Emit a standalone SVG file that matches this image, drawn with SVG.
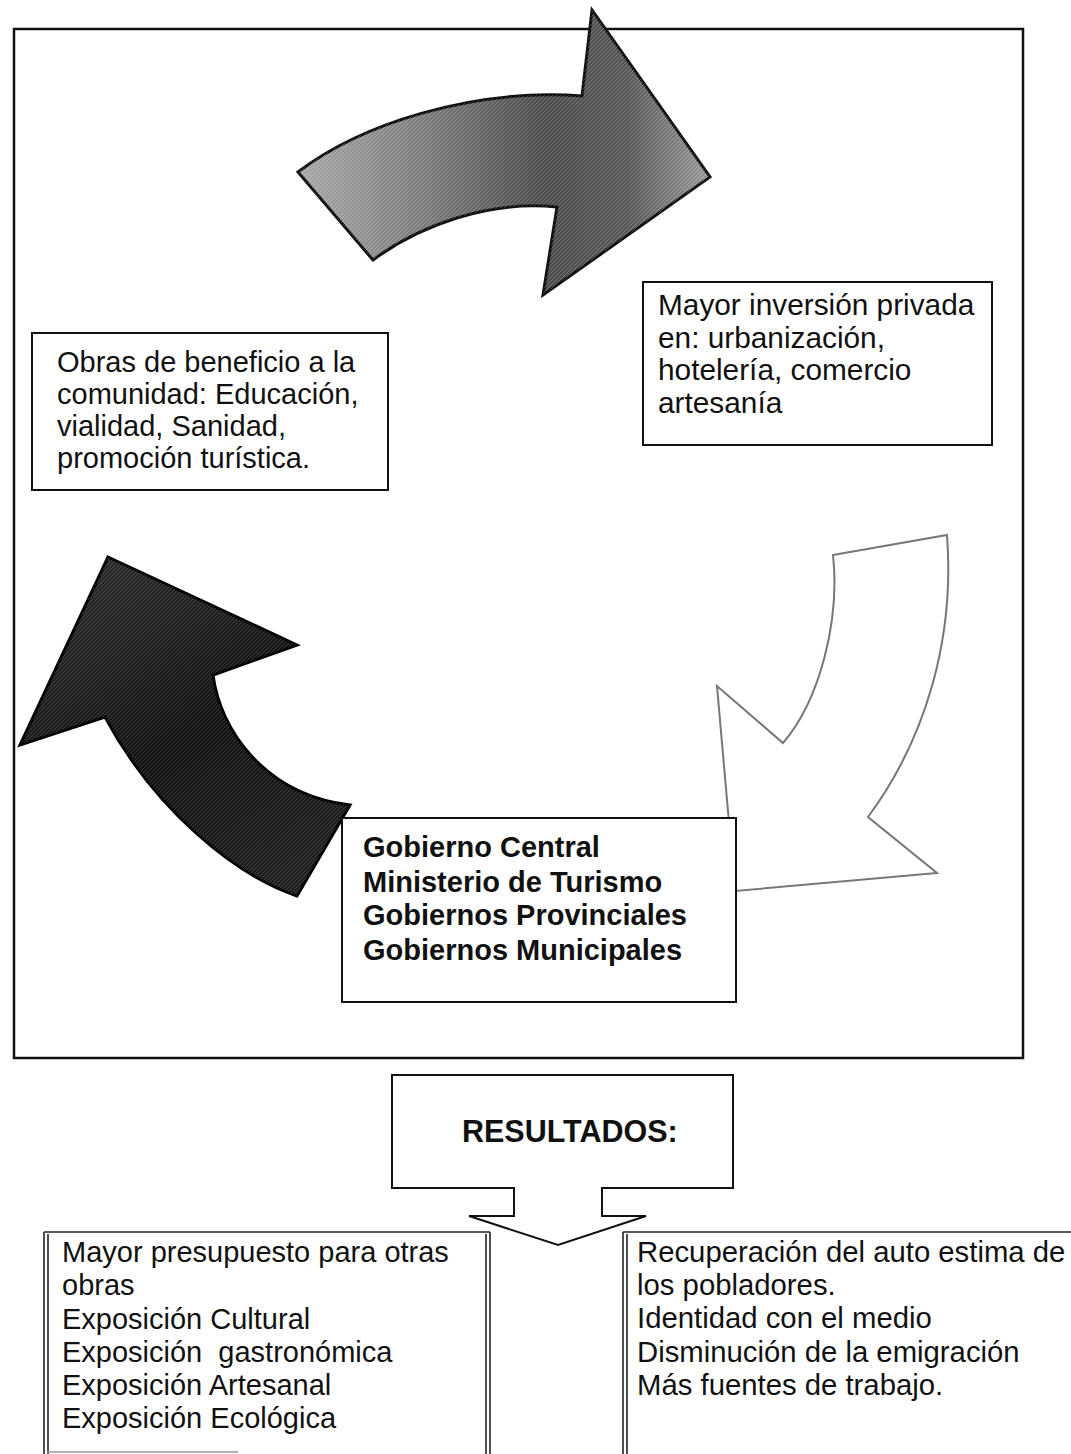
<svg xmlns="http://www.w3.org/2000/svg" width="1071" height="1454" viewBox="0 0 1071 1454">
<defs>
<style>
.t{font-family:"Liberation Sans",Arial,Helvetica,sans-serif;font-size:29px;fill:#111}
.b{font-weight:bold}
.box{fill:#fff;stroke:#111;stroke-width:2}
.frame{fill:none;stroke:#111;stroke-width:2.5}
.ln{stroke:#222;stroke-width:1.6;fill:none}
</style>
<linearGradient id="gTop" gradientUnits="userSpaceOnUse" x1="298" y1="150" x2="710" y2="150">
<stop offset="0" stop-color="#a8a8a8"/>
<stop offset="0.3" stop-color="#7c7c7c"/>
<stop offset="0.6" stop-color="#4c4c4c"/>
<stop offset="0.8" stop-color="#585858"/>
<stop offset="1" stop-color="#9a9a9a"/>
</linearGradient>
<linearGradient id="gLeft" gradientUnits="userSpaceOnUse" x1="100" y1="560" x2="300" y2="900">
<stop offset="0" stop-color="#2c2c2c"/>
<stop offset="0.5" stop-color="#141414"/>
<stop offset="1" stop-color="#222"/>
</linearGradient>
<pattern id="hatch" width="4" height="4" patternUnits="userSpaceOnUse">
<path d="M0,4 L4,0" stroke="#fff" stroke-opacity="0.22" stroke-width="1"/>
</pattern>
</defs>
<rect width="1071" height="1454" fill="#fff"/>
<rect id="frame" class="frame" x="14" y="29" width="1009" height="1029"/>

<g id="connectors">
<g id="arrow-top">
<path d="M298,172 C360,125 470,88 582,96 L592,10 L710,177 L543,295 L557,207 C490,200 420,225 373,260 Z" fill="url(#gTop)" stroke="#111" stroke-width="3" stroke-linejoin="miter"/>
<path d="M298,172 C360,125 470,88 582,96 L592,10 L710,177 L543,295 L557,207 C490,200 420,225 373,260 Z" fill="url(#hatch)"/>
</g>
<g id="arrow-right">
<path d="M833,555 L947,535 C955,640 925,740 868,817 L937,873 L735,891 L717,686 L783,743 C820,700 840,620 833,555 Z" fill="#fff" stroke="#777" stroke-width="2"/>
</g>
<g id="arrow-left">
<path d="M108,557 L297,645 L213,675 C220,730 265,795 350,805 L297,896 C235,875 155,810 105,717 L20,745 Z" fill="url(#gLeft)" stroke="#000" stroke-width="3"/>
<path d="M108,557 L297,645 L213,675 C220,730 265,795 350,805 L297,896 C235,875 155,810 105,717 L20,745 Z" fill="url(#hatch)" opacity="0.6"/>
</g>
</g>

<g id="node-obras">
<rect class="box" x="32" y="333" width="356" height="157"/>
<text class="t" x="57" y="372">Obras de beneficio a la</text>
<text class="t" x="57" y="404">comunidad: Educación,</text>
<text class="t" x="57" y="436">vialidad, Sanidad,</text>
<text class="t" x="57" y="468">promoción turística.</text>
</g>

<g id="node-inversion">
<rect class="box" x="643" y="282" width="349" height="163"/>
<text class="t" x="658" y="315" style="font-size:29.8px">Mayor inversión privada</text>
<text class="t" x="658" y="348" style="font-size:29.8px">en: urbanización,</text>
<text class="t" x="658" y="380" style="font-size:29.8px">hotelería, comercio</text>
<text class="t" x="658" y="413" style="font-size:29.8px">artesanía</text>
</g>

<g id="node-gobierno">
<rect class="box" x="342" y="818" width="394" height="184"/>
<text class="t b" x="363" y="857">Gobierno Central</text>
<text class="t b" x="363" y="892">Ministerio de Turismo</text>
<text class="t b" x="363" y="925">Gobiernos Provinciales</text>
<text class="t b" x="363" y="960">Gobiernos Municipales</text>
</g>

<g id="node-resultados">
<path class="box" d="M392,1075 H733 V1188 H602 V1216 H646 L558,1245 L469,1216 H514 V1188 H392 Z"/>
<text class="t b" x="462" y="1142" style="font-size:30.5px">RESULTADOS:</text>
</g>

<g id="node-res-left">
<line class="ln" x1="44" y1="1232" x2="490" y2="1232" stroke-width="2.5"/>
<line class="ln" x1="44" y1="1232" x2="44" y2="1454"/>
<line class="ln" x1="48" y1="1234" x2="48" y2="1454"/>
<line class="ln" x1="486" y1="1234" x2="486" y2="1454"/>
<line class="ln" x1="490" y1="1232" x2="490" y2="1454"/>
<line x1="47" y1="1452" x2="238" y2="1452" stroke="#999" stroke-width="1.5"/>
<text class="t" x="62" y="1262">Mayor presupuesto para otras</text>
<text class="t" x="62" y="1295">obras</text>
<text class="t" x="62" y="1329">Exposición Cultural</text>
<text class="t" x="62" y="1362" xml:space="preserve">Exposición  gastronómica</text>
<text class="t" x="62" y="1395">Exposición Artesanal</text>
<text class="t" x="62" y="1428">Exposición Ecológica</text>
</g>

<g id="node-res-right">
<line class="ln" x1="623" y1="1232" x2="1071" y2="1232" stroke-width="2.5"/>
<line class="ln" x1="623" y1="1232" x2="623" y2="1454"/>
<line class="ln" x1="627" y1="1234" x2="627" y2="1454"/>
<text class="t" x="637" y="1262" style="font-size:29.3px">Recuperación del auto estima de</text>
<text class="t" x="637" y="1295" style="font-size:29.3px">los pobladores.</text>
<text class="t" x="637" y="1328" style="font-size:29.3px">Identidad con el medio</text>
<text class="t" x="637" y="1362" style="font-size:29.3px">Disminución de la emigración</text>
<text class="t" x="637" y="1395" style="font-size:29.3px">Más fuentes de trabajo.</text>
</g>
</svg>
